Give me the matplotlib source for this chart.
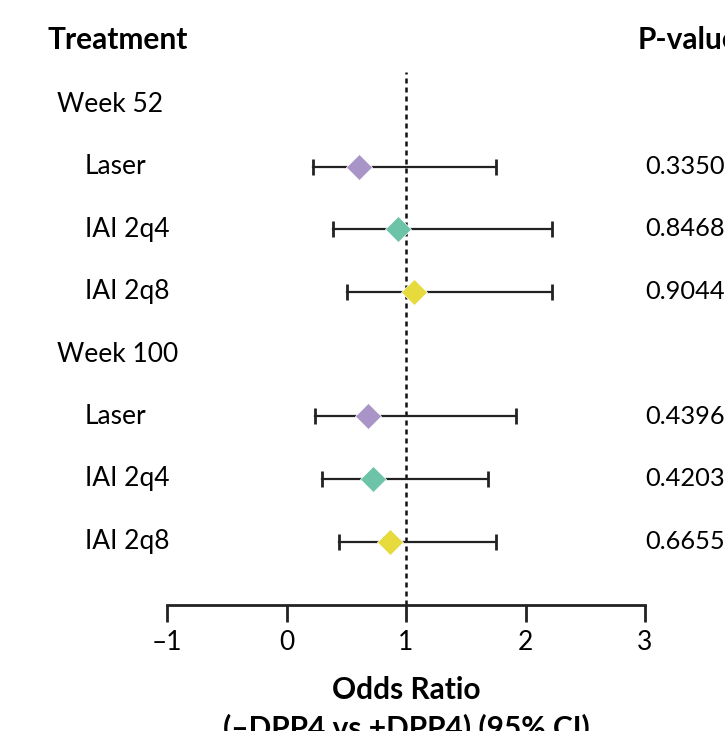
import matplotlib.pyplot as plt
import matplotlib.transforms as mtransforms
import numpy as np

plt.rcParams['font.family'] = ['Lato', 'DejaVu Sans']

groups = ['Week 52', 'Week 100']
treatments = ['Laser', 'IAI 2q4', 'IAI 2q8']
colors = ['#a994c8', '#6cc3a8', '#e6da3d']

odds_ratio = [0.61, 0.93, 1.07, 0.68, 0.72, 0.87]
ci_low = [0.22, 0.39, 0.51, 0.24, 0.30, 0.44]
ci_high = [1.75, 2.22, 2.22, 1.92, 1.69, 1.75]
p_values = ['0.3350', '0.8468', '0.9044', '0.4396', '0.4203', '0.6655']

fig = plt.figure(figsize=(7.25, 7.31), dpi=100)
ax = fig.add_axes([167 / 725, 1 - 605 / 731, (645 - 167) / 725, (605 - 72) / 731])

fs = 19
fsb = 21.5
tr = mtransforms.blended_transform_factory(fig.transFigure, ax.transData)

row = 0
k = 0
for g in groups:
    ax.text(57 / 725, row, g, transform=tr, fontsize=fs, va='center', ha='left')
    row += 1
    for j, t in enumerate(treatments):
        ax.text(85 / 725, row, t, transform=tr, fontsize=fs, va='center', ha='left')
        ax.plot([ci_low[k], ci_high[k]], [row, row], color='#222222', lw=1.6, zorder=2)
        ax.plot([ci_low[k], ci_high[k]], [row, row], color='#222222', lw=0,
                marker='|', markersize=12, markeredgewidth=2, zorder=2)
        ax.plot(odds_ratio[k], row, marker='D', markersize=13, color=colors[j],
                markeredgecolor='white', markeredgewidth=0.5, zorder=3, clip_on=False)
        ax.text(645 / 725, row, p_values[k], transform=tr, fontsize=18.3, va='center', ha='left')
        row += 1
        k += 1

ax.text(47 / 725, -1.03, 'Treatment', transform=tr, fontsize=fsb, fontweight='bold',
        va='center', ha='left')
ax.text(638 / 725, -1.03, 'P-value', transform=tr, fontsize=fsb, fontweight='bold',
        va='center', ha='left')

ax.axvline(1, color='#111111', lw=1.8, ls=(0, (2, 1.6)), zorder=1)

ax.set_xlim(-1, 3)
ax.set_ylim(8.016, -0.512)
ax.set_xticks([-1, 0, 1, 2, 3])
ax.set_xticklabels(['\u20131', '0', '1', '2', '3'], fontsize=fs)
ax.set_yticks([])
for s in ['top', 'left', 'right']:
    ax.spines[s].set_visible(False)
ax.spines['bottom'].set_linewidth(2)
ax.spines['bottom'].set_color('#222222')
ax.tick_params(axis='x', length=12, width=2, color='#222222', pad=6)
ax.set_xlabel('Odds Ratio\n(\u2013DPP4 vs +DPP4) (95% CI)', fontsize=fsb,
              fontweight='bold', labelpad=15, linespacing=1.4)

fig.savefig('out.png', dpi=100)
